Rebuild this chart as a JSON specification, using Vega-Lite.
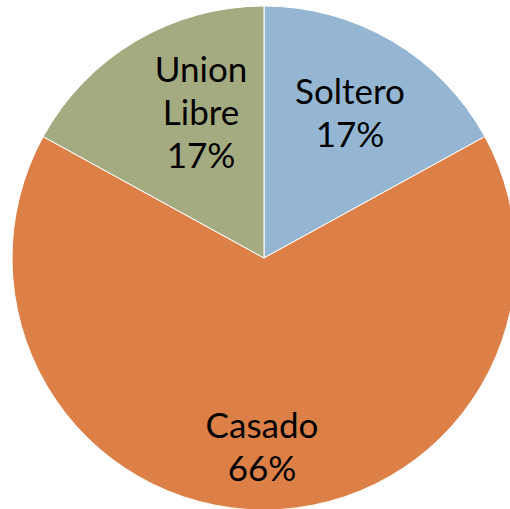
{
  "$schema": "https://vega.github.io/schema/vega-lite/v6.json",
  "width": 528,
  "height": 516,
  "autosize": "none",
  "padding": 0,
  "background": "white",
  "data": {"values": [
    {"estado": "Soltero", "pct": 17, "orden": 1, "label": "Soltero\n17%"},
    {"estado": "Casado", "pct": 66, "orden": 2, "label": "Casado\n66%"},
    {"estado": "Union Libre", "pct": 17, "orden": 3, "label": "Union\nLibre\n17%"}
  ]},
  "encoding": {
    "theta": {"field": "pct", "type": "quantitative", "stack": true},
    "order": {"field": "orden", "type": "quantitative"}
  },
  "layer": [
    {
      "mark": {"type": "arc", "outerRadius": 252, "stroke": "white", "strokeWidth": 1},
      "encoding": {
        "color": {"field": "estado", "type": "nominal", "legend": null,
          "scale": {"domain": ["Soltero", "Casado", "Union Libre"], "range": ["#94B6D2", "#DD8047", "#A5AB81"]}}
      }
    },
    {
      "mark": {"type": "text", "radius": 165, "dx": 2, "dy": -23, "font": "Lato", "fontSize": 35, "lineHeight": 43, "lineBreak": "\n", "color": "black", "baseline": "middle"},
      "encoding": {"text": {"condition": {"test": "datum.estado === 'Soltero'", "field": "label"}, "value": ""}}
    },
    {
      "mark": {"type": "text", "radius": 165, "dx": 21, "dy": -45, "font": "Lato", "fontSize": 35, "lineHeight": 43, "lineBreak": "\n", "color": "black", "baseline": "middle"},
      "encoding": {"text": {"condition": {"test": "datum.estado === 'Union Libre'", "field": "label"}, "value": ""}}
    },
    {
      "mark": {"type": "text", "radius": 190, "dx": -2, "dy": -21, "font": "Lato", "fontSize": 35, "lineHeight": 43, "lineBreak": "\n", "color": "black", "baseline": "middle"},
      "encoding": {"text": {"condition": {"test": "datum.estado === 'Casado'", "field": "label"}, "value": ""}}
    }
  ]
}
